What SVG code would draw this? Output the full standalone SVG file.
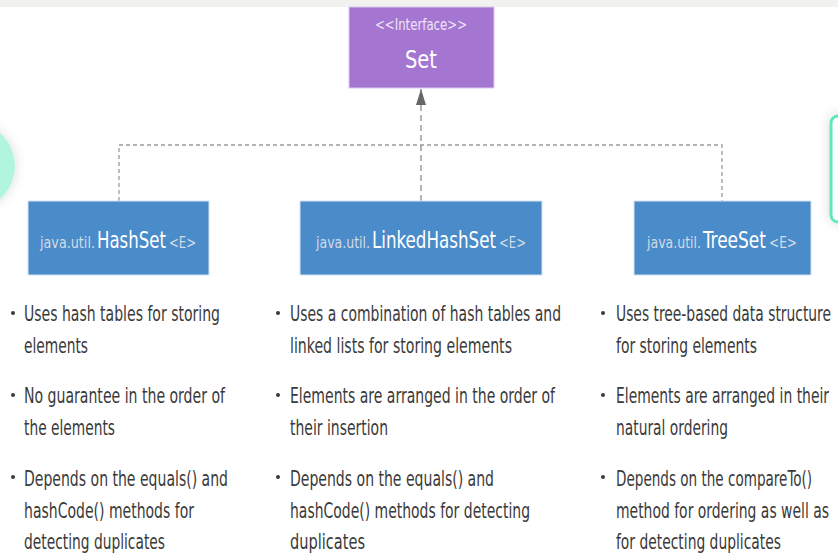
<svg xmlns="http://www.w3.org/2000/svg" width="838" height="553" viewBox="0 0 838 553">
<defs>
<style>
.bt{font-family:"Liberation Sans Narrow","DejaVu Sans Condensed","Liberation Sans",sans-serif;font-size:21px;fill:#3a3a3a}
.lbl{font-family:"Liberation Sans Narrow","DejaVu Sans Condensed","Liberation Sans",sans-serif}
.pk{font-size:16px;fill:#d3dbe6}
.nm{font-size:23px;fill:#ffffff}
.cls{fill:#4a8bca;stroke:#d6e4f2;stroke-width:1}
.dash{fill:none;stroke:#9a9a9a;stroke-width:1.3;stroke-dasharray:4 3}
.dashv{fill:none;stroke:#8c8c8c;stroke-width:1.3;stroke-dasharray:6 4}
.dot{fill:#3a3a3a}
</style>
<marker id="arr" viewBox="0 0 16 10" refX="16" refY="5" markerWidth="16" markerHeight="10" markerUnits="userSpaceOnUse" orient="auto">
<path d="M0,0 L16,5 L0,10 Z" fill="#666"/>
</marker>
<filter id="sh" x="-50%" y="-50%" width="200%" height="200%">
<feDropShadow dx="0" dy="0" stdDeviation="6" flood-color="#000" flood-opacity="0.15"/>
</filter>
</defs>
<rect x="0" y="0" width="838" height="553" fill="#ffffff"/>
<rect x="0" y="0" width="838" height="7" fill="#f1f1ef"/>

<circle cx="-29" cy="166" r="44" fill="#b2f5df" filter="url(#sh)"/>
<rect x="831" y="116" width="30" height="106" rx="7" fill="#ffffff" stroke="#5ee8c0" stroke-width="3" filter="url(#sh)"/>

<g id="connectors">
<path class="dash" d="M119,201 V145 H722 V201"/>
<path class="dashv" d="M421,201 V104"/>
<path d="M421,105 V89" stroke="#666" stroke-width="1" fill="none" marker-end="url(#arr)"/>
</g>

<g id="set">
<rect x="349" y="7" width="145" height="81" fill="#a576d1" stroke="#d9c8ee" stroke-width="1"/>
<text class="lbl" x="421" y="30" text-anchor="middle" font-size="15" fill="#ede4f7" textLength="92" lengthAdjust="spacingAndGlyphs">&lt;&lt;Interface&gt;&gt;</text>
<text class="lbl" x="421" y="68" text-anchor="middle" font-size="25" fill="#ffffff" textLength="32" lengthAdjust="spacingAndGlyphs">Set</text>
</g>

<g id="hashset">
<rect class="cls" x="28" y="201" width="181" height="74"/>
<text class="lbl" y="248"><tspan class="pk" x="40" textLength="55" lengthAdjust="spacingAndGlyphs">java.util.</tspan><tspan class="nm" x="97" textLength="69" lengthAdjust="spacingAndGlyphs">HashSet</tspan><tspan class="pk" x="169" textLength="27" lengthAdjust="spacingAndGlyphs">&lt;E&gt;</tspan></text>
</g>

<g id="linkedhashset">
<rect class="cls" x="300" y="201" width="242" height="74"/>
<text class="lbl" y="248"><tspan class="pk" x="316" textLength="54" lengthAdjust="spacingAndGlyphs">java.util.</tspan><tspan class="nm" x="372" textLength="124" lengthAdjust="spacingAndGlyphs">LinkedHashSet</tspan><tspan class="pk" x="499" textLength="27" lengthAdjust="spacingAndGlyphs">&lt;E&gt;</tspan></text>
</g>

<g id="treeset">
<rect class="cls" x="634" y="201" width="177" height="74"/>
<text class="lbl" y="248"><tspan class="pk" x="647" textLength="54" lengthAdjust="spacingAndGlyphs">java.util.</tspan><tspan class="nm" x="703" textLength="63" lengthAdjust="spacingAndGlyphs">TreeSet</tspan><tspan class="pk" x="769" textLength="28" lengthAdjust="spacingAndGlyphs">&lt;E&gt;</tspan></text>
</g>

<g id="hashset-notes">
<circle class="dot" cx="13" cy="313" r="2"/>
<circle class="dot" cx="13" cy="395" r="2"/>
<circle class="dot" cx="13" cy="477" r="2"/>
<text class="bt" x="24" y="321" textLength="196" lengthAdjust="spacingAndGlyphs">Uses hash tables for storing</text>
<text class="bt" x="24" y="353" textLength="64" lengthAdjust="spacingAndGlyphs">elements</text>
<text class="bt" x="24" y="403" textLength="201" lengthAdjust="spacingAndGlyphs">No guarantee in the order of</text>
<text class="bt" x="24" y="435" textLength="91" lengthAdjust="spacingAndGlyphs">the elements</text>
<text class="bt" x="24" y="486" textLength="204" lengthAdjust="spacingAndGlyphs">Depends on the equals() and</text>
<text class="bt" x="24" y="518" textLength="170" lengthAdjust="spacingAndGlyphs">hashCode() methods for</text>
<text class="bt" x="24" y="549" textLength="141" lengthAdjust="spacingAndGlyphs">detecting duplicates</text>
</g>

<g id="linkedhashset-notes">
<circle class="dot" cx="278" cy="313" r="2"/>
<circle class="dot" cx="278" cy="395" r="2"/>
<circle class="dot" cx="278" cy="477" r="2"/>
<text class="bt" x="290" y="321" textLength="271" lengthAdjust="spacingAndGlyphs">Uses a combination of hash tables and</text>
<text class="bt" x="290" y="353" textLength="222" lengthAdjust="spacingAndGlyphs">linked lists for storing elements</text>
<text class="bt" x="290" y="403" textLength="265" lengthAdjust="spacingAndGlyphs">Elements are arranged in the order of</text>
<text class="bt" x="290" y="435" textLength="98" lengthAdjust="spacingAndGlyphs">their insertion</text>
<text class="bt" x="290" y="486" textLength="204" lengthAdjust="spacingAndGlyphs">Depends on the equals() and</text>
<text class="bt" x="290" y="518" textLength="240" lengthAdjust="spacingAndGlyphs">hashCode() methods for detecting</text>
<text class="bt" x="290" y="549" textLength="75" lengthAdjust="spacingAndGlyphs">duplicates</text>
</g>

<g id="treeset-notes">
<circle class="dot" cx="603" cy="313" r="2"/>
<circle class="dot" cx="603" cy="395" r="2"/>
<circle class="dot" cx="603" cy="477" r="2"/>
<text class="bt" x="616" y="321" textLength="215" lengthAdjust="spacingAndGlyphs">Uses tree-based data structure</text>
<text class="bt" x="616" y="353" textLength="141" lengthAdjust="spacingAndGlyphs">for storing elements</text>
<text class="bt" x="616" y="403" textLength="213" lengthAdjust="spacingAndGlyphs">Elements are arranged in their</text>
<text class="bt" x="616" y="435" textLength="112" lengthAdjust="spacingAndGlyphs">natural ordering</text>
<text class="bt" x="616" y="486" textLength="196" lengthAdjust="spacingAndGlyphs">Depends on the compareTo()</text>
<text class="bt" x="616" y="518" textLength="213" lengthAdjust="spacingAndGlyphs">method for ordering as well as</text>
<text class="bt" x="616" y="549" textLength="165" lengthAdjust="spacingAndGlyphs">for detecting duplicates</text>
</g>
</svg>
